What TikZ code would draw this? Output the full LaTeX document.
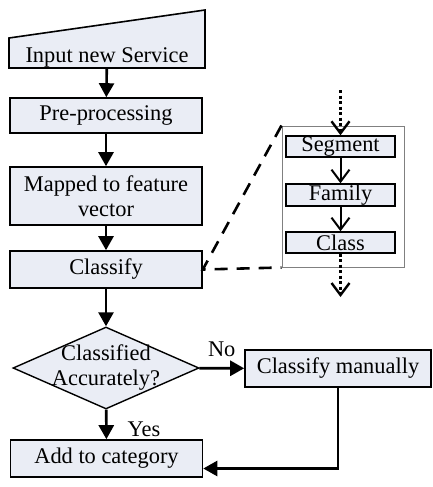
\documentclass[tikz,border=0pt]{standalone}
\usepackage{fontspec}
\setmainfont{Liberation Serif}
\usetikzlibrary{arrows.meta,shapes.geometric}
\definecolor{boxfill}{RGB}{234,237,245}

\begin{document}
\begin{tikzpicture}[x=1pt,y=-1pt,
  every node/.style={font=\fontsize{22.4pt}{25pt}\selectfont},
  box/.style={draw,line width=1.6pt,fill=boxfill,minimum width=192pt,minimum height=37pt,inner sep=0pt,align=center},
  small/.style={draw,line width=1.4pt,fill=boxfill,minimum width=109pt,minimum height=21pt,inner sep=0pt},
  flow/.style={line width=2.6pt,-{Triangle[length=14pt,width=15pt]}},
  sub/.style={line width=2pt,-{Straight Barb[length=12pt,width=18pt]}},
  dots/.style={line width=2.4pt,dash pattern=on 3pt off 2.5pt,-{Straight Barb[length=12pt,width=18pt]}},
  zoomline/.style={line width=2.6pt,dash pattern=on 13pt off 9pt}]
      \useasboundingbox (0,0) rectangle (432,487);
      \filldraw[fill=boxfill,line width=1.6pt] (9,38) -- (205,10) -- (205,68) -- (9,68) -- cycle;
      \node[inner sep=0pt,minimum width=196pt,minimum height=22pt] (inp) at (107,57) {Input new Service};
      \node[box,minimum height=35pt] (pre) at (106,115.5) {Pre-processing};
      \node[box,minimum height=58pt] (map) at (106,196) {Mapped to feature\\vector};
      \node[box] (cls) at (106,269.5) {Classify};
      \node[draw,diamond,fill=boxfill,line width=1.4pt,inner sep=0pt,minimum width=186pt,minimum height=82pt] (acc) at (106,368) {};
      \node[align=center,inner sep=0pt] (acctext) at (acc) {Classified\\Accurately?};
      \node[box] (add) at (106.5,458.5) {Add to category};
      \node[box,minimum width=186pt] (man) at (338,368.5) {Classify manually};
      \node[draw=gray,line width=1pt,minimum width=122pt,minimum height=141pt,inner sep=0pt] (zoom) at (343,196.5) {};
      \node[small] (seg) at (340.5,146.5) {Segment};
      \node[small,minimum height=22pt] (fam) at (340.5,195) {Family};
      \node[small] (cla) at (340.5,242.5) {Class};
      \coordinate (top) at (340.5,90);
      \coordinate (bot) at (340.5,297);
      \draw[flow] (inp) -- (pre);
      \draw[flow] (pre) -- (map);
      \draw[flow] (map) -- (cls);
      \draw[flow] (cls) -- (acc);
      \draw[flow] (acc) -- node[pos=0.65,right=20pt,inner sep=0pt]{Yes} (add);
      \draw[flow] (acc) -- node[above=10pt,inner sep=0pt]{No} (man);
      \draw[flow] (man.south) |- ([yshift=-10pt]add.east);
      \draw[zoomline] (zoom.north west) -- (cls.east) -- (zoom.south west);
      \draw[dots] (top) -- (seg);
      \draw[sub] (seg) -- (fam);
      \draw[sub] (fam) -- (cla);
      \draw[dots] (cla) -- (bot);
\end{tikzpicture}
\end{document}
